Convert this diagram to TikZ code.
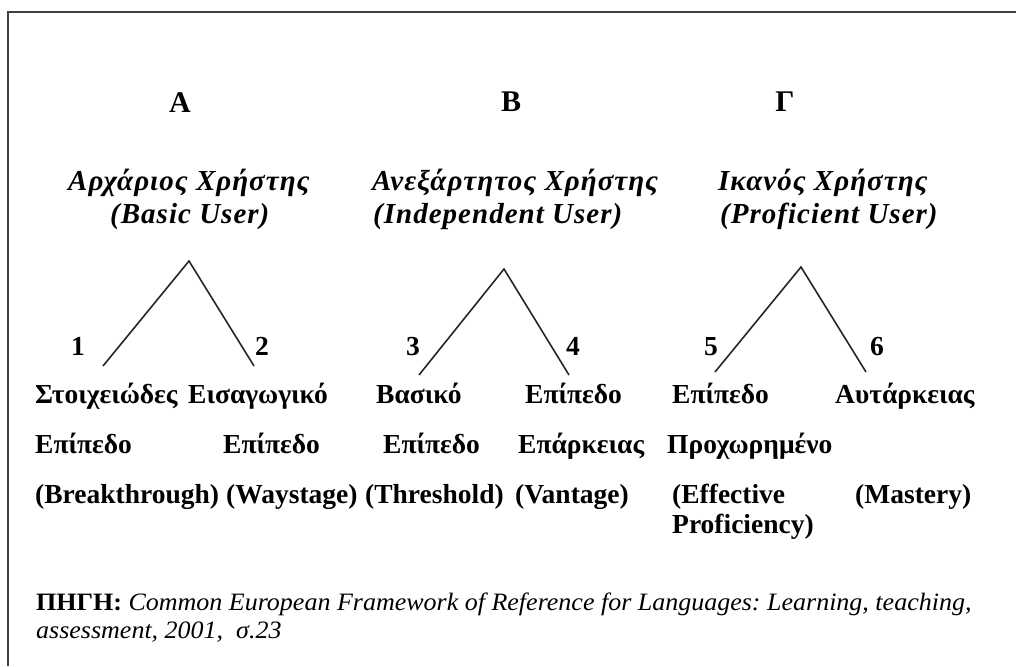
\documentclass[tikz,border=0pt]{standalone}
\usepackage{fontspec}
\setmainfont{Liberation Serif}
\newfontfamily\footfont[FakeStretch=1.04]{Liberation Serif}
\newfontfamily\ttlfont[LetterSpace=3.5]{Liberation Serif}
\frenchspacing
\begin{document}
\begin{tikzpicture}[x=1pt,y=-1pt,
  lvl/.style={font=\fontsize{27.5}{33}\selectfont\bfseries, inner sep=0, anchor=base west},
  ttl/.style={font=\fontsize{29}{34}\selectfont\ttlfont\bfseries\itshape, inner sep=0, anchor=base west},
  big/.style={font=\fontsize{30}{36}\selectfont\bfseries, inner sep=0, anchor=base},
  num/.style={font=\fontsize{27.5}{33}\selectfont\bfseries, inner sep=0, anchor=base},
  leg/.style={line width=1.6pt, draw=black!85},
  frame/.style={line width=2pt, draw=black!75},
  foot/.style={font=\fontsize{25}{30}\selectfont\footfont, inner sep=0, anchor=base west}]
\useasboundingbox (0,0) rectangle (1016,666);
% frame
\coordinate (fTR) at (1016,12);
\coordinate (fTL) at (8,12);
\coordinate (fBL) at (8,666);
\draw[frame] (fTR) -- (fTL) -- (fBL);
% headings
\node[big] (hA) at (180,113) {Α};
\node[big] (hB) at (511,112) {Β};
\node[big] (hC) at (785,112) {Γ};
% titles
\node[ttl] (tA1) at (68,190) {Αρχάριος Χρήστης};
\node[ttl] (tA2) at (110,223) {(Basic User)};
\node[ttl] (tB1) at (372,190) {Ανεξάρτητος Χρήστης};
\node[ttl] (tB2) at (373,223) {(Independent User)};
\node[ttl] (tC1) at (718,190) {Ικανός Χρήστης};
\node[ttl] (tC2) at (720,223) {(Proficient User)};
% triangles
\coordinate (apA) at (189,261);
\coordinate (lA) at (103,366);
\coordinate (rA) at (254,366);
\coordinate (apB) at (504,269);
\coordinate (lB) at (419,375);
\coordinate (rB) at (569,375);
\coordinate (apC) at (801,267);
\coordinate (lC) at (715,372);
\coordinate (rC) at (866,372);
\draw[leg] (lA) -- (apA) -- (rA);
\draw[leg] (lB) -- (apB) -- (rB);
\draw[leg] (lC) -- (apC) -- (rC);
% numbers
\node[num] (n1) at (78,355) {1};
\node[num] (n2) at (262,355) {2};
\node[num] (n3) at (413,355) {3};
\node[num] (n4) at (573,355) {4};
\node[num] (n5) at (711,355) {5};
\node[num] (n6) at (877,355) {6};
% level texts row 1
\node[lvl] (a1) at (35,403) {Στοιχειώδες};
\node[lvl] (a2) at (188,403) {Εισαγωγικό};
\node[lvl] (a3) at (376,403) {Βασικό};
\node[lvl] (a4) at (525,403) {Επίπεδο};
\node[lvl] (a5) at (672,403) {Επίπεδο};
\node[lvl] (a6) at (835,403) {Αυτάρκειας};
% row 2
\node[lvl] (b1) at (35,453) {Επίπεδο};
\node[lvl] (b2) at (223,453) {Επίπεδο};
\node[lvl] (b3) at (383,453) {Επίπεδο};
\node[lvl] (b4) at (518,453) {Επάρκειας};
\node[lvl] (b5) at (667,453) {Προχωρημένο};
% row 3
\node[lvl] (c1) at (35,503) {(Breakthrough)};
\node[lvl] (c2) at (226,503) {(Waystage)};
\node[lvl] (c3) at (365,503) {(Threshold)};
\node[lvl] (c4) at (515,503) {(Vantage)};
\node[lvl] (c5) at (672,503) {(Effective};
\node[lvl] (c6) at (855,503) {(Mastery)};
\node[lvl] (d5) at (672,533) {Proficiency)};
% footer
\node[foot] (s1) at (36,610) {\textbf{ΠΗΓΗ:} \itshape Common European Framework of Reference for Languages: Learning, teaching,};
\node[foot] (s2) at (36,638) {\itshape assessment, 2001,\ \ σ.23};
\end{tikzpicture}
\end{document}
